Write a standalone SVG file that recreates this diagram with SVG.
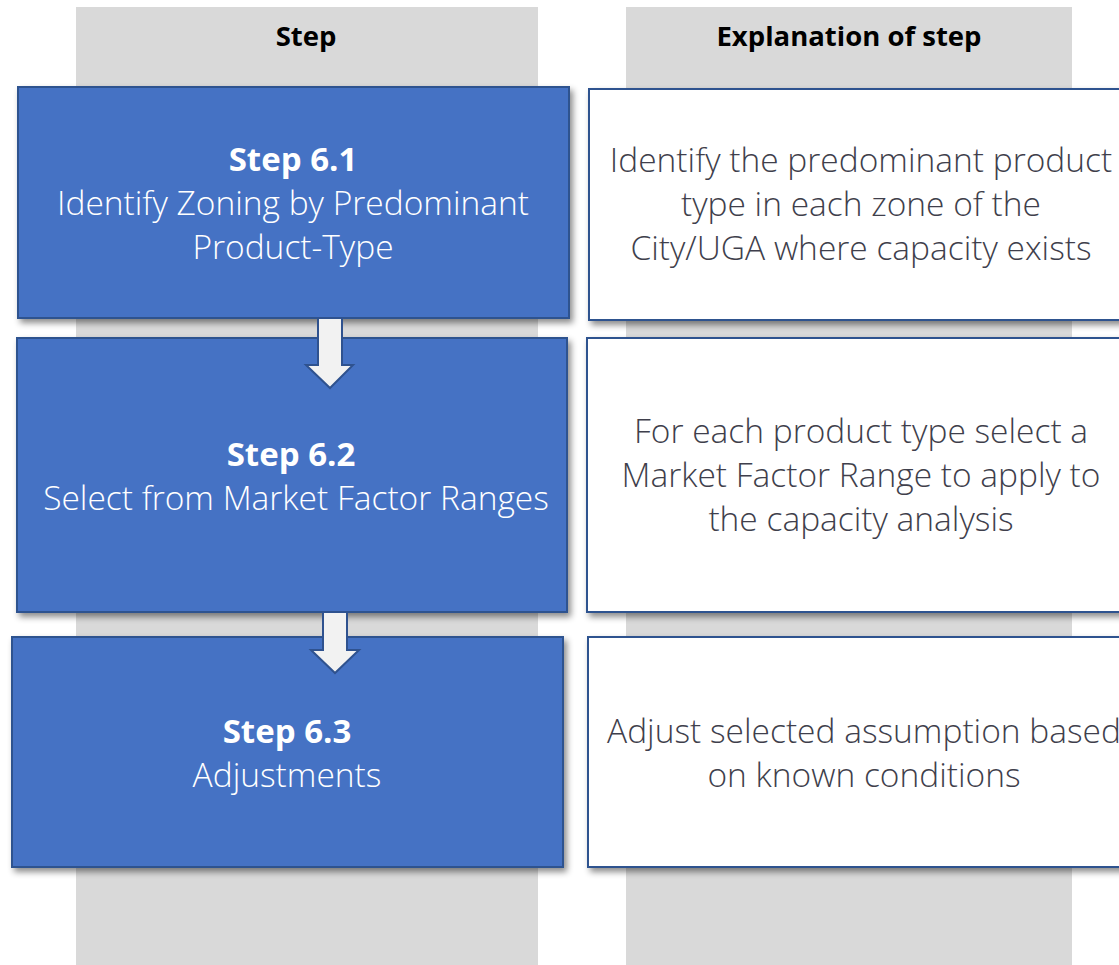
<svg xmlns="http://www.w3.org/2000/svg" width="1119" height="965" viewBox="0 0 1119 965">
<style>
.col{fill:#D9D9D9}
.hdr{font-family:"Open Sans","Liberation Sans",sans-serif;font-weight:700;font-size:27.5px;fill:#000;text-anchor:middle}
.blue{fill:#4472C4;stroke:#2F528F;stroke-width:2}
.white{fill:#FFFFFF;stroke:#2F528F;stroke-width:2}
.t{font-family:"Open Sans","Liberation Sans",sans-serif;text-anchor:middle;font-size:33.5px}
.tb{font-weight:700;fill:#FFFFFF;font-size:33px}
.tl{font-weight:300;fill:#FFFFFF}
.tr{font-weight:300;fill:#3F3F4C}
.arrow{fill:#F2F2F2;stroke:#2F528F;stroke-width:2;stroke-linejoin:miter}
</style>
<defs>
<filter id="sh" x="-5%" y="-5%" width="115%" height="120%">
<feDropShadow dx="3" dy="4" stdDeviation="3" flood-color="#000" flood-opacity="0.45"/>
</filter>
</defs>
<g id="columns">
<rect class="col" x="76" y="7" width="462" height="958"/>
<rect class="col" x="626" y="7" width="446" height="958"/>
<text class="hdr" x="306" y="46">Step</text>
<text class="hdr" x="849" y="46">Explanation of step</text>
</g>
<g id="step61">
<rect class="blue" x="18" y="87" width="551" height="231" filter="url(#sh)"/>
<text class="t tb" x="293" y="171">Step 6.1</text>
<text class="t tl" x="293" y="215">Identify Zoning by Predominant</text>
<text class="t tl" x="293" y="259">Product-Type</text>
</g>
<g id="exp61">
<rect class="white" x="589" y="89" width="545" height="231" filter="url(#sh)"/>
<text class="t tr" x="861" y="172">Identify the predominant product</text>
<text class="t tr" x="861" y="216">type in each zone of the</text>
<text class="t tr" x="861" y="260">City/UGA where capacity exists</text>
</g>
<g id="step62">
<rect class="blue" x="17" y="338" width="550" height="274" filter="url(#sh)"/>
<text class="t tb" x="291" y="466">Step 6.2</text>
<text class="t tl" x="296" y="510">Select from Market Factor Ranges</text>
</g>
<g id="exp62">
<rect class="white" x="587" y="338" width="545" height="274" filter="url(#sh)"/>
<text class="t tr" x="861" y="443">For each product type select a</text>
<text class="t tr" x="861" y="487">Market Factor Range to apply to</text>
<text class="t tr" x="861" y="531">the capacity analysis</text>
</g>
<g id="step63">
<rect class="blue" x="12" y="637" width="551" height="230" filter="url(#sh)"/>
<text class="t tb" x="287" y="743">Step 6.3</text>
<text class="t tl" x="287" y="787">Adjustments</text>
</g>
<g id="exp63">
<rect class="white" x="588" y="637" width="545" height="230" filter="url(#sh)"/>
<text class="t tr" x="864" y="743">Adjust selected assumption based</text>
<text class="t tr" x="864" y="787">on known conditions</text>
</g>
<g id="connectors">
<path class="arrow" d="M318,318 L342,318 L342,365 L353,365 L330,388 L306,365 L318,365 Z"/>
<path class="arrow" d="M323,612 L347,612 L347,650 L359,650 L335,673 L311,650 L323,650 Z"/>
</g>
</svg>
